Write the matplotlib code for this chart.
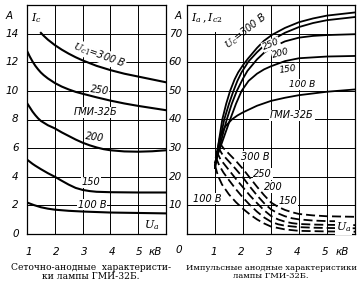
import matplotlib
matplotlib.use("Agg")
import matplotlib.pyplot as plt

# ---------------- data: left chart (grid current vs anode voltage) ----------------
ua_300 = [1.5, 1.6, 1.75, 2, 2.25, 2.5, 2.75, 3, 3.5, 4, 4.5, 5, 5.5, 6]
ic_300 = [14.05, 13.85, 13.58, 13.2, 12.88, 12.6, 12.35, 12.13, 11.75, 11.45, 11.2, 11.0, 10.8, 10.6]
ua_250 = [1, 1.1, 1.2, 1.3, 1.4, 1.5, 1.6, 1.75, 2, 2.25, 2.5, 2.75, 3, 3.5, 4, 4.5, 5, 5.5, 6]
ic_250 = [12.8, 12.4, 12.05, 11.75, 11.5, 11.28, 11.1, 10.87, 10.55, 10.3, 10.1, 9.93, 9.8, 9.55, 9.32,
          9.12, 8.95, 8.8, 8.65]
ua_200 = [1, 1.1, 1.2, 1.3, 1.4, 1.5, 1.75, 2, 2.25, 2.5, 2.75, 3, 3.25, 3.5, 3.75, 4, 4.5, 5, 5.5, 6]
ic_200 = [9.15, 8.85, 8.55, 8.3, 8.08, 7.9, 7.6, 7.38, 7.1, 6.85, 6.6, 6.38, 6.2, 6.05, 5.93, 5.85,
          5.77, 5.75, 5.78, 5.85]
ua_150 = [1, 1.1, 1.2, 1.3, 1.4, 1.5, 1.75, 2, 2.25, 2.5, 2.75, 3, 3.25, 3.5, 4, 5, 6]
ic_150 = [5.2, 5.05, 4.9, 4.77, 4.65, 4.53, 4.25, 4.0, 3.72, 3.45, 3.22, 3.08, 3.0, 2.95, 2.92, 2.9, 2.9]
ua_100 = [1, 1.25, 1.5, 1.75, 2, 2.5, 3, 4, 5, 6]
ic_100 = [2.2, 2.02, 1.87, 1.77, 1.7, 1.62, 1.57, 1.5, 1.47, 1.44]

# ---------------- data: right chart (pulse anode characteristics) ----------------
ua_r300 = [1.0, 1.1, 1.26, 1.4, 1.54, 1.7, 1.83, 2.0, 2.18, 2.5, 2.75, 3.04, 3.5, 4, 4.5, 5, 6]
ia_300 = [23, 30, 40, 45.5, 50, 54, 56.5, 59, 61.3, 65, 67.5, 69.6, 72, 74, 75.3, 76.3, 77.4]
ua_r250 = [1.0, 1.12, 1.33, 1.5, 1.66, 1.8, 1.95, 2.2, 2.5, 2.75, 3, 3.5, 4, 4.5, 5, 6]
ia_250 = [23, 30, 40, 45.5, 50, 53.5, 56.5, 60.3, 63.5, 65.8, 67.6, 70.3, 72.3, 73.7, 74.7, 75.8]
ua_r200 = [1.0, 1.15, 1.42, 1.6, 1.78, 2.0, 2.16, 2.5, 2.75, 3, 3.5, 4, 4.5, 5, 6]
ia_200 = [24, 30, 40, 45.5, 50, 54.3, 57, 61, 63.3, 65, 67.3, 68.6, 69.2, 69.5, 69.8]
ua_r150 = [1.0, 1.18, 1.54, 1.75, 1.95, 2.2, 2.5, 2.75, 3, 3.5, 4, 5, 6]
ia_150 = [25, 30, 40, 45.5, 50, 53.5, 56, 57.5, 58.6, 60.4, 61.4, 62, 62.2]
ua_r100 = [1.0, 1.1, 1.18, 1.36, 1.6, 1.8, 2, 2.5, 3, 3.5, 4, 5, 6]
ia_100 = [24, 30, 34, 37.5, 40, 41.4, 42.5, 44.8, 46.5, 47.6, 48.5, 49.7, 50.5]

ua_d300 = [1.15, 1.3, 1.5, 1.75, 2, 2.25, 2.5, 2.75, 3, 3.25, 3.5, 3.75, 4, 4.5, 5, 6]
ic2_300 = [32, 30, 28, 25.5, 22.7, 19.6, 16.5, 13.6, 11.0, 9.5, 8.4, 7.6, 7.0, 6.5, 6.2, 6.0]
ua_d250 = [1.1, 1.25, 1.5, 1.75, 2, 2.25, 2.5, 2.75, 3, 3.25, 3.5, 3.75, 4, 4.5, 5, 6]
ic2_250 = [30.5, 28, 25.3, 22.6, 19.7, 16.5, 13.5, 10.8, 8.6, 7.2, 6.2, 5.5, 5.1, 4.7, 4.5, 4.4]
ua_d200 = [1.05, 1.2, 1.5, 1.75, 2, 2.25, 2.5, 2.75, 3, 3.25, 3.5, 3.75, 4, 4.5, 5, 6]
ic2_200 = [29, 26, 22.3, 19.2, 16.3, 13.4, 10.8, 8.3, 6.3, 5.1, 4.3, 3.8, 3.5, 3.3, 3.2, 3.1]
ua_d150 = [1.02, 1.15, 1.3, 1.5, 1.75, 2, 2.25, 2.5, 2.75, 3, 3.25, 3.5, 4, 4.5, 5, 6]
ic2_150 = [27, 24, 21.5, 18.8, 15.6, 12.7, 10.1, 7.8, 5.8, 4.3, 3.4, 2.9, 2.4, 2.2, 2.1, 2.0]
ua_d100 = [1.0, 1.1, 1.25, 1.5, 1.75, 2, 2.25, 2.5, 2.75, 3, 3.5, 4, 5, 6]
ic2_100 = [24, 20.5, 17.3, 13.8, 11.1, 8.8, 6.8, 5.1, 3.7, 2.6, 1.6, 1.1, 0.9, 0.8]

left_yticks = [0, 2, 4, 6, 8, 10, 12, 14]
left_xticks = [1, 2, 3, 4, 5]
right_yticks = [10, 20, 30, 40, 50, 60, 70]
right_xticks = [1, 2, 3, 4, 5]

caption_left = "Сеточно-анодные  характеристи-\nки лампы ГМИ-32Б."
caption_right = "Импульсные анодные характеристики\nлампы ГМИ-32Б."

plt.rcParams['mathtext.fontset'] = 'dejavuserif'
fig = plt.figure(figsize=(3.6, 2.89), dpi=100)

tick_kw = dict(fontsize=7.5, style='italic', family='DejaVu Sans')
lbl_kw = dict(fontsize=7, style='italic', family='DejaVu Sans')
sml_kw = dict(fontsize=6.5, style='italic', family='DejaVu Sans')
wb = dict(facecolor='white', edgecolor='none', pad=0.5)
LW = 1.5
ZC = 4   # curves above label boxes
ZL = 3   # labels above grid

# ---------------- left axes ----------------
axL = fig.add_axes([27/360, 55/289, 139/360, 229/289])
axL.set_xlim(1, 6)
axL.set_ylim(0, 16)
for y in left_yticks[1:]:
    axL.axhline(y, color='black', lw=0.7, zorder=1)
for x in left_xticks[1:]:
    axL.axvline(x, color='black', lw=0.7, zorder=1)
for s in axL.spines.values():
    s.set_linewidth(0.9)
axL.set_xticks([])
axL.set_yticks([])
for xs, ys in [(ua_300, ic_300), (ua_250, ic_250), (ua_200, ic_200), (ua_150, ic_150), (ua_100, ic_100)]:
    axL.plot(xs, ys, color='black', lw=LW, zorder=ZC, solid_joinstyle='round')
for y in left_yticks:
    axL.text(-0.06, y, str(y), transform=axL.get_yaxis_transform(), ha='right', va='center', **tick_kw)
for x in left_xticks:
    axL.text(x + 0.05, -0.055, str(x), transform=axL.get_xaxis_transform(), ha='center', va='top', **tick_kw)
axL.text(5.6, -0.055, "кВ", transform=axL.get_xaxis_transform(), ha='center', va='top', **tick_kw)
axL.text(-0.1, 15.2, "A", transform=axL.get_yaxis_transform(), ha='right', va='center', **tick_kw)
axL.text(1.15, 15.1, r"$I_c$", fontsize=8, ha='left', va='center', bbox=wb, zorder=ZL)
axL.text(3.6, 12.5, r"$U_{c1}$=300 В", rotation=-20, ha='center', va='center', bbox=wb, zorder=ZL, **lbl_kw)
axL.text(3.6, 10.05, "250", rotation=-8, ha='center', va='center', bbox=wb, zorder=ZL, **lbl_kw)
axL.text(3.45, 8.5, "ГМИ-32Б", ha='center', va='center', bbox=wb, zorder=ZL, **lbl_kw)
axL.text(3.45, 6.75, "200", rotation=-8, ha='center', va='center', bbox=wb, zorder=ZL, **lbl_kw)
axL.text(3.3, 3.6, "150", ha='center', va='center', bbox=wb, zorder=ZL, **lbl_kw)
axL.text(3.35, 2.05, "100 В", ha='center', va='center', bbox=wb, zorder=ZL, **lbl_kw)
axL.text(5.5, 0.65, r"$U_a$", fontsize=8, ha='center', va='center', bbox=wb, zorder=ZL)

# ---------------- right axes ----------------
axR = fig.add_axes([187/360, 55/289, 168/360, 229/289])
axR.set_xlim(0, 6)
axR.set_ylim(0, 80)
for y in right_yticks:
    axR.axhline(y, color='black', lw=0.7, zorder=1)
for x in right_xticks:
    axR.axvline(x, color='black', lw=0.7, zorder=1)
for s in axR.spines.values():
    s.set_linewidth(0.9)
axR.set_xticks([])
axR.set_yticks([])
for xs, ys in [(ua_r300, ia_300), (ua_r250, ia_250), (ua_r200, ia_200), (ua_r150, ia_150), (ua_r100, ia_100)]:
    axR.plot(xs, ys, color='black', lw=1.3, zorder=ZC, solid_joinstyle='round')
for xs, ys in [(ua_d300, ic2_300), (ua_d250, ic2_250), (ua_d200, ic2_200), (ua_d150, ic2_150), (ua_d100, ic2_100)]:
    axR.plot(xs, ys, color='black', lw=1.3, dashes=(5, 2.2), zorder=ZC)
for y in right_yticks:
    axR.text(-0.03, y, str(y), transform=axR.get_yaxis_transform(), ha='right', va='center', **tick_kw)
axR.text(-0.03, -0.05, "0", transform=axR.transAxes, ha='right', va='top', **tick_kw)
for x in right_xticks:
    axR.text(x - 0.05, -0.055, str(x), transform=axR.get_xaxis_transform(), ha='center', va='top', **tick_kw)
axR.text(5.55, -0.055, "кВ", transform=axR.get_xaxis_transform(), ha='center', va='top', **tick_kw)
axR.text(-0.03, 76, "A", transform=axR.get_yaxis_transform(), ha='right', va='center', **tick_kw)
axR.add_patch(plt.Rectangle((0.02, 70.5), 1.95, 9.2, facecolor='white', edgecolor='none', zorder=2))
axR.text(0.15, 75.5, r"$I_a\,,I_{c2}$", fontsize=8, ha='left', va='center', zorder=ZL)
axR.text(2.1, 70.8, r"$U_c$=300 В", rotation=38, ha='center', va='center', zorder=ZL, **lbl_kw)
axR.text(3.0, 66.2, "250", rotation=22, ha='center', va='center', bbox=wb, zorder=ZC + 1, **sml_kw)
axR.text(3.35, 63.0, "200", rotation=15, ha='center', va='center', bbox=wb, zorder=ZC + 1, **sml_kw)
axR.text(3.6, 57.6, "150", rotation=8, ha='center', va='center', bbox=wb, zorder=ZC + 1, **sml_kw)
axR.text(4.1, 52.2, "100 В", ha='center', va='center', bbox=wb, zorder=ZL, **sml_kw)
axR.text(3.75, 41.5, "ГМИ-32Б", ha='center', va='center', bbox=wb, zorder=ZL, **lbl_kw)
axR.text(2.45, 27, "300 В", ha='center', va='center', bbox=wb, zorder=ZL, **lbl_kw)
axR.text(2.7, 21, "250", ha='center', va='center', bbox=wb, zorder=ZL, **lbl_kw)
axR.text(3.1, 16.4, "200", ha='center', va='center', bbox=wb, zorder=ZL, **lbl_kw)
axR.text(3.6, 11.4, "150", ha='center', va='center', bbox=wb, zorder=ZL, **lbl_kw)
axR.text(0.72, 12.3, "100 В", ha='center', va='center', bbox=wb, zorder=ZL, **lbl_kw)
axR.text(5.6, 2.4, r"$U_a$", fontsize=8, ha='center', va='center', bbox=wb, zorder=ZC + 1)

# captions
fig.text(91/360, 1 - 272/289, caption_left, ha='center', va='center', fontsize=6.6,
         family='DejaVu Serif', linespacing=1.1)
fig.text(271/360, 1 - 272/289, caption_right, ha='center', va='center', fontsize=6.0,
         family='DejaVu Serif', linespacing=1.1)

fig.savefig("out.png", dpi=100)
